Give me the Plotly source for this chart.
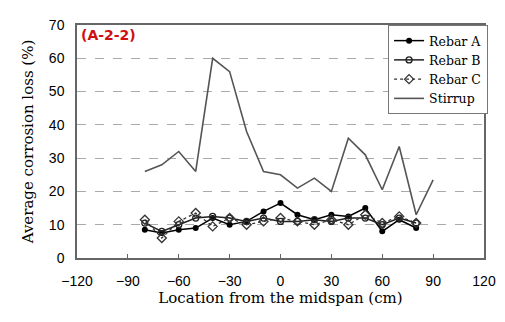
import plotly.graph_objects as go

locations = [-80, -70, -60, -50, -40, -30, -20, -10, 0, 10, 20, 30, 40, 50, 60, 70, 80]
stirrup_x = [-80, -70, -60, -50, -40, -30, -20, -10, 0, 10, 20, 30, 40, 50, 60, 70, 80, 90]
rebar_a = [8.5, 7.5, 8.5, 9, 12, 10, 11, 14, 16.5, 13, 11.5, 13, 12.5, 15, 8, 11.5, 9]
rebar_b = [10.5, 8, 10, 12, 12.5, 12, 11, 12, 11, 11, 11.5, 11, 12, 12, 10, 12, 10.5]
rebar_c = [11.5, 6, 11, 13.5, 9.5, 12, 10, 11, 12, 11, 10, 11.5, 10, 13, 10.5, 12.5, 10.5]
stirrup = [26, 28, 32, 26, 60, 56, 38, 26, 25, 21, 24, 20, 36, 31, 20.5, 33.5, 13, 23.5]
x_ticks = [-120, -90, -60, -30, 0, 30, 60, 90, 120]
y_ticks = [0, 10, 20, 30, 40, 50, 60, 70]

serif = "DejaVu Serif, Liberation Serif, serif"
sans = "Liberation Sans, Arial, sans-serif"

fig = go.Figure()
fig.add_trace(go.Scatter(x=locations, y=rebar_a, name="Rebar A", mode="lines+markers",
                         line=dict(color="black", width=1.5),
                         marker=dict(symbol="circle", size=6, color="black")))
fig.add_trace(go.Scatter(x=locations, y=rebar_b, name="Rebar B", mode="lines+markers",
                         line=dict(color="#222", width=1.5),
                         marker=dict(symbol="circle-open", size=6, color="#222", line=dict(width=1.3))))
fig.add_trace(go.Scatter(x=locations, y=rebar_c, name="Rebar C", mode="lines+markers",
                         line=dict(color="#333", width=1.3, dash="dot"),
                         marker=dict(symbol="diamond-open", size=7, color="#333", line=dict(width=1.3))))
fig.add_trace(go.Scatter(x=stirrup_x, y=stirrup, name="Stirrup", mode="lines",
                         line=dict(color="#555", width=1.6)))

fig.add_annotation(x=0, y=1, xref="paper", yref="paper", xanchor="left", yanchor="top",
                   xshift=2, yshift=0, text="<b>(A-2-2)</b>", showarrow=False,
                   font=dict(family="DejaVu Sans, sans-serif", size=14, color="#d01010"))

# the page body has an 8px margin, so the figure is sized/offset to compensate
fig.update_layout(
    width=497, height=314,
    margin=dict(l=69, r=14, t=9, b=64),
    paper_bgcolor="white", plot_bgcolor="white",
    showlegend=True,
    legend=dict(x=1.01, y=1.0, xanchor="right", yanchor="top",
                bgcolor="white", bordercolor="#777", borderwidth=1,
                font=dict(family=serif, size=12.5, color="black"),
                tracegroupgap=0, itemwidth=30),
    font=dict(family=sans, color="black"),
)
fig.update_xaxes(range=[-120, 120], tickvals=x_ticks, ticks="inside", ticklen=4,
                 tickcolor="#666", showgrid=False, zeroline=False,
                 showline=True, linecolor="#666", linewidth=1.5, mirror=True,
                 ticklabelstandoff=9,
                 tickfont=dict(family=sans, size=14, color="black"),
                 title=dict(text="Location from the midspan (cm)",
                            font=dict(family=serif, size=15, color="black"), standoff=5))
fig.update_yaxes(range=[0, 70], tickvals=y_ticks, ticks="", showgrid=True,
                 gridcolor="#aaa", griddash="dash", gridwidth=1.2, zeroline=False,
                 showline=True, linecolor="#666", linewidth=1.5, mirror=True,
                 ticklabelstandoff=8,
                 tickfont=dict(family=sans, size=14, color="black"),
                 title=dict(text="Average corrosion loss (%)",
                            font=dict(family=serif, size=15, color="black"), standoff=12))

fig.write_html("out.html")
